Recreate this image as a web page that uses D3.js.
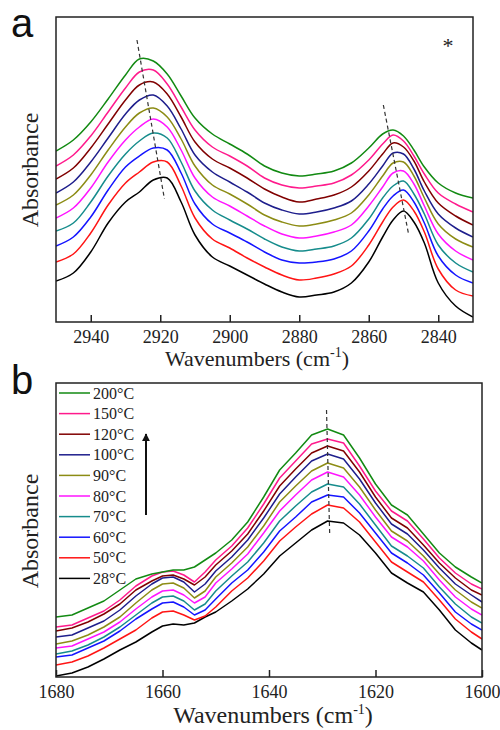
<!DOCTYPE html>
<html>
<head>
<meta charset="UTF-8">
<title>FTIR spectra vs temperature</title>
<script src="https://cdnjs.cloudflare.com/ajax/libs/d3/7.8.5/d3.min.js"></script>
<style>
  body { margin: 0; background: #fff; }
  svg { display: block; }
  .frame { fill: none; stroke: #222; stroke-width: 1.5px; }
  .curve { fill: none; stroke-width: 1.5px; stroke-linejoin: round; }
  .peak { stroke: #333; stroke-width: 1.2px; stroke-dasharray: 4 3; }
  .serif { font-family: "Liberation Serif", "Times New Roman", serif; fill: #222; }
  .letter { font-family: "Liberation Sans", Arial, sans-serif; fill: #111; }
</style>
</head>
<body>
<div id="chart"></div>
<script>
// temperatures, bottom curve first
var temps = ['28°C', '50°C', '60°C', '70°C', '80°C', '90°C', '100°C', '120°C', '150°C', '200°C'];
var colors = ['#000000', '#ff1414', '#1414ff', '#168c8c', '#ff14ff', '#8c8c14', '#1e1e8c', '#800000', '#ff1a8c', '#128a12'];

// panel a: C-H stretching region
var waveA = [2950, 2945, 2940, 2935, 2930, 2926, 2922, 2918, 2914, 2910, 2905, 2900, 2895, 2890,
             2885, 2880, 2875, 2870, 2865, 2860, 2856, 2853, 2850, 2847, 2844, 2840, 2835, 2830];
var a28  = [41, 49, 70, 99, 120, 130, 142, 144, 120, 87, 65, 56, 47, 38, 30, 25, 27, 30, 39, 60, 85, 102, 111, 100, 79, 39, 16, 5];
var a50  = [60, 68, 89, 117, 139, 150, 160, 160, 136, 104, 83, 74, 64, 55, 47, 42, 44, 48, 56, 77, 100, 115, 122, 111, 90, 53, 32, 26];
var a60  = [76, 85, 105, 132, 155, 166, 174, 172, 149, 118, 98, 89, 80, 70, 62, 59, 60, 63, 71, 91, 113, 126, 132, 120, 99, 66, 47, 39];
var a70  = [91, 99, 120, 146, 168, 181, 189, 184, 160, 131, 112, 102, 93, 83, 75, 71, 73, 76, 84, 103, 124, 136, 141, 128, 108, 77, 59, 50];
var a80  = [104, 114, 134, 160, 182, 195, 203, 195, 172, 144, 125, 116, 106, 96, 88, 84, 86, 90, 97, 116, 135, 149, 151, 138, 116, 88, 71, 62];
var a90  = [117, 127, 147, 172, 195, 209, 214, 205, 183, 156, 137, 128, 118, 107, 100, 96, 98, 102, 109, 127, 146, 159, 160, 146, 124, 98, 83, 75];
var a100 = [129, 140, 160, 184, 208, 222, 227, 216, 193, 167, 150, 140, 130, 119, 112, 108, 110, 114, 121, 138, 156, 169, 168, 153, 131, 108, 94, 85];
var a120 = [143, 154, 174, 198, 222, 237, 240, 228, 205, 180, 163, 154, 144, 133, 125, 120, 123, 127, 135, 151, 168, 179, 175, 161, 140, 119, 106, 97];
var a150 = [156, 167, 186, 210, 234, 250, 252, 238, 215, 192, 175, 166, 156, 144, 137, 134, 136, 139, 147, 162, 178, 187, 181, 166, 148, 129, 118, 110];
var a200 = [171, 182, 200, 223, 247, 263, 261, 248, 226, 204, 188, 178, 168, 156, 149, 146, 148, 151, 159, 174, 188, 192, 186, 172, 155, 139, 129, 124];
var ticksA = [2940, 2920, 2900, 2880, 2860, 2840];
var peakA1 = [[2926.7, 282], [2918.8, 123]];
var peakA2 = [[2855.8, 217], [2848.6, 89]];

// panel b: amide I region
var waveB = [1680, 1677, 1674, 1671, 1668, 1665, 1662, 1660, 1658, 1656, 1654, 1652, 1650, 1647, 1644,
             1641, 1638, 1635, 1632, 1629, 1626, 1623, 1620, 1617, 1614, 1611, 1608, 1605, 1602, 1600];
var b28  = [1, 4, 10, 18, 27, 35, 45, 51, 53, 52, 54, 60, 65, 76, 88, 103, 121, 134, 147, 156, 154, 142, 124, 104, 94, 85, 67, 47, 34, 27];
var b50  = [12, 15, 21, 29, 38, 47, 59, 65, 66, 62, 57, 61, 70, 86, 99, 116, 136, 150, 163, 172, 169, 155, 135, 115, 105, 95, 77, 58, 45, 38];
var b60  = [20, 22, 29, 36, 46, 58, 68, 74, 75, 70, 62, 67, 78, 94, 107, 125, 146, 160, 175, 182, 180, 164, 144, 124, 114, 102, 84, 65, 53, 47];
var b70  = [23, 26, 32, 40, 50, 62, 74, 80, 81, 76, 67, 73, 86, 101, 115, 134, 156, 171, 185, 193, 190, 173, 152, 131, 121, 109, 90, 73, 60, 54];
var b80  = [29, 31, 38, 45, 55, 68, 80, 86, 87, 82, 74, 80, 94, 108, 123, 144, 166, 182, 197, 205, 200, 182, 160, 140, 130, 116, 97, 80, 68, 62];
var b90  = [33, 36, 42, 50, 60, 74, 87, 93, 94, 89, 79, 86, 100, 114, 130, 151, 175, 191, 206, 214, 209, 190, 167, 146, 136, 121, 103, 87, 75, 69];
var b100 = [40, 42, 49, 56, 67, 81, 93, 99, 100, 95, 85, 93, 106, 120, 137, 159, 183, 200, 216, 223, 218, 198, 174, 153, 143, 127, 109, 93, 82, 75];
var b120 = [46, 49, 55, 63, 73, 87, 96, 101, 102, 98, 92, 100, 112, 126, 143, 166, 191, 208, 224, 231, 226, 205, 180, 159, 149, 132, 114, 99, 87, 82];
var b150 = [50, 52, 59, 66, 77, 91, 101, 105, 106, 102, 95, 105, 117, 131, 149, 173, 199, 216, 233, 238, 234, 211, 186, 166, 156, 138, 119, 104, 93, 88];
var b200 = [60, 62, 69, 76, 87, 98, 103, 105, 107, 107, 110, 117, 124, 137, 155, 180, 207, 224, 242, 248, 242, 219, 193, 172, 162, 143, 124, 110, 100, 94];
var ticksB = [1680, 1660, 1640, 1620, 1600];
var peakB = [[1629.2, 267], [1628.6, 142]];
var arrowB = [[1663.1, 162], [1663.1, 243]];

var svg = d3.select('#chart')
  .append('svg')
    .attr('width', 500)
    .attr('height', 730);

svg.append('defs').append('marker')
    .attr('id', 'head')
    .attr('viewBox', '0 0 10 10')
    .attr('refX', 9).attr('refY', 5)
    .attr('markerWidth', 4).attr('markerHeight', 4)
    .attr('orient', 'auto')
  .append('path')
    .attr('d', 'M0,0L10,5L0,10z')
    .attr('fill', '#111');

function drawPanel(p) {
  var x = d3.scaleLinear().domain(p.xDomain).range([p.left, p.right]);
  var y = d3.scaleLinear().domain([0, p.bottom - p.top]).range([p.bottom, p.top]);
  var g = svg.append('g');

  g.append('clipPath').attr('id', 'clip' + p.name)
    .append('rect')
      .attr('x', p.left).attr('y', p.top)
      .attr('width', p.right - p.left).attr('height', p.bottom - p.top);

  var line = d3.line()
    .x(function(d) { return x(d[0]); })
    .y(function(d) { return y(d[1]); })
    .curve(p.curve);

  g.append('g')
      .attr('clip-path', 'url(#clip' + p.name + ')')
    .selectAll('path')
    .data(p.series)
    .enter()
    .append('path')
      .attr('class', 'curve')
      .attr('stroke', function(d, i) { return colors[i]; })
      .attr('d', function(d) { return line(p.waves.map(function(w, j) { return [w, d[j]]; })); });

  p.peaks.forEach(function(pk) {
    g.append('line')
      .attr('class', 'peak')
      .attr('x1', x(pk[0][0])).attr('y1', y(pk[0][1]))
      .attr('x2', x(pk[1][0])).attr('y2', y(pk[1][1]));
  });

  // ticks point inward, labels below the frame
  var xAxis = d3.axisBottom(x)
    .tickValues(p.ticks)
    .tickSizeInner(-7)
    .tickSizeOuter(0)
    .tickPadding(8)
    .tickFormat(d3.format('d'));
  g.append('g')
      .attr('transform', 'translate(0,' + p.bottom + ')')
      .call(xAxis)
      .call(function(a) { a.select('.domain').remove(); })
      .call(function(a) { a.selectAll('line').attr('stroke', '#222').attr('stroke-width', 1.5); })
      .call(function(a) {
        a.selectAll('text')
          .attr('class', 'serif')
          .attr('font-family', null)
          .style('font-size', '18px');
      });

  g.append('rect')
    .attr('class', 'frame')
    .attr('x', p.left).attr('y', p.top)
    .attr('width', p.right - p.left).attr('height', p.bottom - p.top);

  var title = g.append('text')
    .attr('class', 'serif')
    .attr('x', p.titleX).attr('y', p.titleY)
    .attr('text-anchor', 'middle')
    .style('font-size', p.titleSize + 'px');
  title.append('tspan').text('Wavenumbers (cm');
  title.append('tspan').attr('dy', -9).style('font-size', '14px').text('-1');
  title.append('tspan').attr('dy', 9).text(')');

  g.append('text')
    .attr('class', 'serif')
    .attr('transform', 'translate(38,' + p.absY + ') rotate(-90)')
    .attr('text-anchor', 'middle')
    .style('font-size', '24px')
    .text('Absorbance');

  g.append('text')
    .attr('class', 'letter')
    .attr('x', 11).attr('y', p.letterY)
    .style('font-size', '40px')
    .text(p.name);

  return { x: x, y: y, g: g };
}

var pa = drawPanel({
  name: 'a', xDomain: [2950, 2830], left: 56, right: 473, top: 17, bottom: 322,
  waves: waveA, series: [a28, a50, a60, a70, a80, a90, a100, a120, a150, a200],
  curve: d3.curveCatmullRom.alpha(0.5), ticks: ticksA, peaks: [peakA1, peakA2],
  titleX: 257, titleY: 366, titleSize: 22, absY: 170, letterY: 37
});

pa.g.append('text')
  .attr('class', 'serif')
  .attr('x', 448).attr('y', 53)
  .attr('text-anchor', 'middle')
  .style('font-size', '22px')
  .text('*');

var pb = drawPanel({
  name: 'b', xDomain: [1680, 1600], left: 56, right: 482, top: 383, bottom: 677,
  waves: waveB, series: [b28, b50, b60, b70, b80, b90, b100, b120, b150, b200],
  curve: d3.curveLinear, ticks: ticksB, peaks: [peakB],
  titleX: 273, titleY: 723, titleSize: 24, absY: 531, letterY: 394
});

pb.g.append('line')
  .attr('x1', pb.x(arrowB[0][0])).attr('y1', pb.y(arrowB[0][1]))
  .attr('x2', pb.x(arrowB[1][0])).attr('y2', pb.y(arrowB[1][1]))
  .attr('stroke', '#111')
  .attr('stroke-width', 2)
  .attr('marker-end', 'url(#head)');

// legend, hottest on top
var legend = pb.g.append('g').attr('transform', 'translate(59,393)');
var rows = legend.selectAll('g')
  .data(temps.map(function(t, i) { return { t: t, c: colors[i] }; }).reverse())
  .enter()
  .append('g')
    .attr('transform', function(d, i) { return 'translate(0,' + (i * 20.6) + ')'; });
rows.append('line')
  .attr('x1', 0).attr('x2', 31)
  .attr('stroke', function(d) { return d.c; })
  .attr('stroke-width', 1.5);
rows.append('text')
  .attr('class', 'serif')
  .attr('x', 34).attr('dy', '0.35em')
  .style('font-size', '16px')
  .text(function(d) { return d.t; });
</script>
</body>
</html>
